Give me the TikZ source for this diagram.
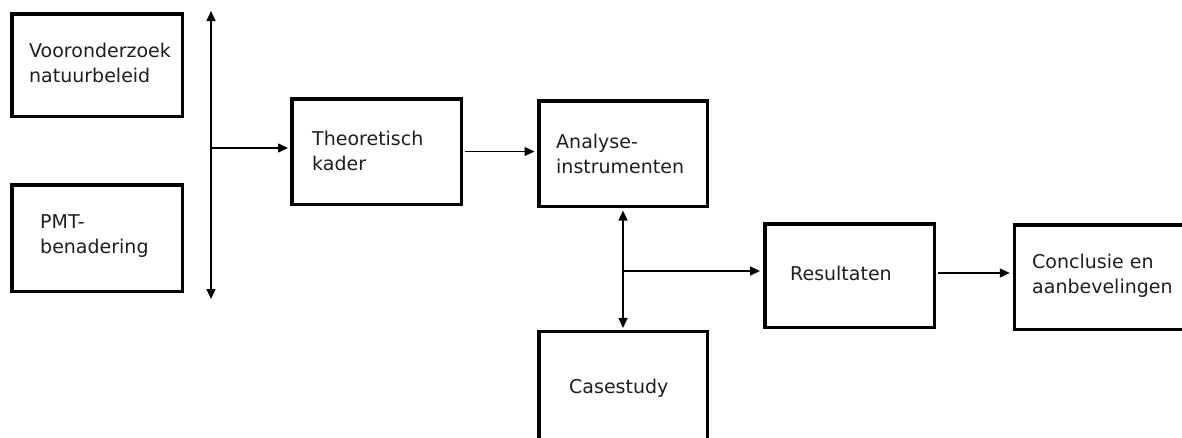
\documentclass[tikz,border=0pt]{standalone}
\usepackage{fontspec}
\setmainfont{DejaVu Sans}
\usetikzlibrary{arrows.meta}
\tikzset{
  box/.style={draw=black, line width=3.5pt, rectangle, inner sep=0pt},
  lbl/.style={anchor=base west, inner sep=0pt, align=left, text=black!88,
    font=\fontsize{19}{25}\selectfont},
  conn/.style={draw=black, line width=1.4pt},
  tip/.style={-{Triangle[length=10pt,width=9pt]}},
  dtip/.style={{Triangle[length=10pt,width=9pt]}-{Triangle[length=10pt,width=9pt]}}
}
\begin{document}
\begin{tikzpicture}[x=1pt,y=-1pt]
\useasboundingbox (0,0) rectangle (1182,437);
\clip (0,0) rectangle (1182,437);
\fill[white] (0,0) rectangle (1182,437);
% boxes
\node[box, minimum width=170.5pt, minimum height=102.5pt] (voor) at (97,65) {};
\node[box, minimum width=170.5pt, minimum height=106.5pt] (pmt) at (97,238) {};
\node[box, minimum width=169.5pt, minimum height=105.5pt] (th) at (376.5,151.5) {};
\node[box, minimum width=168.5pt, minimum height=105.5pt] (an) at (623,153.5) {};
\node[box, minimum width=168.5pt, minimum height=127pt] (cs) at (623,395) {};
\node[box, minimum width=169.5pt, minimum height=103.5pt] (res) at (849.5,275.5) {};
\node[box, minimum width=184pt, minimum height=104.5pt] (con) at (1106.5,277) {};
% texts (base = last line)
\node[lbl] (tvoor) at (29,82) {Vooronderzoek\\natuurbeleid};
\node[lbl] (tpmt) at (40,253) {PMT-\\benadering};
\node[lbl] (tth) at (312,170) {Theoretisch\\kader};
\node[lbl] (tan) at (556,173) {Analyse-\\instrumenten};
\node[lbl] (tcs) at (569,393) {Casestudy};
\node[lbl] (tres) at (790,280) {Resultaten};
\node[lbl] (tcon) at (1032,293) {Conclusie en\\aanbevelingen};
% connectors
\coordinate (vtop) at (211,11);
\coordinate (vbot) at (211,299);
\coordinate (j1) at (211,148);
\draw[conn,dtip] (vtop) -- (vbot);
\draw[conn,tip,shorten >=2pt] (j1) -- (th.west |- j1);
\draw[conn,tip,shorten >=2.5pt,shorten <=1.7pt] (th.east) -- (an.west |- th.east);
\draw[conn,dtip,shorten >=1.8pt,shorten <=2.5pt] (an.south) -- (cs.north);
\coordinate (j2) at (623,271);
\draw[conn,tip,shorten >=3pt] (j2) -- (res.west |- j2);
\coordinate (j3) at (936,273);
\draw[conn,tip,shorten >=3pt,shorten <=1.7pt] (j3) -- (con.west |- j3);
\end{tikzpicture}
\end{document}
